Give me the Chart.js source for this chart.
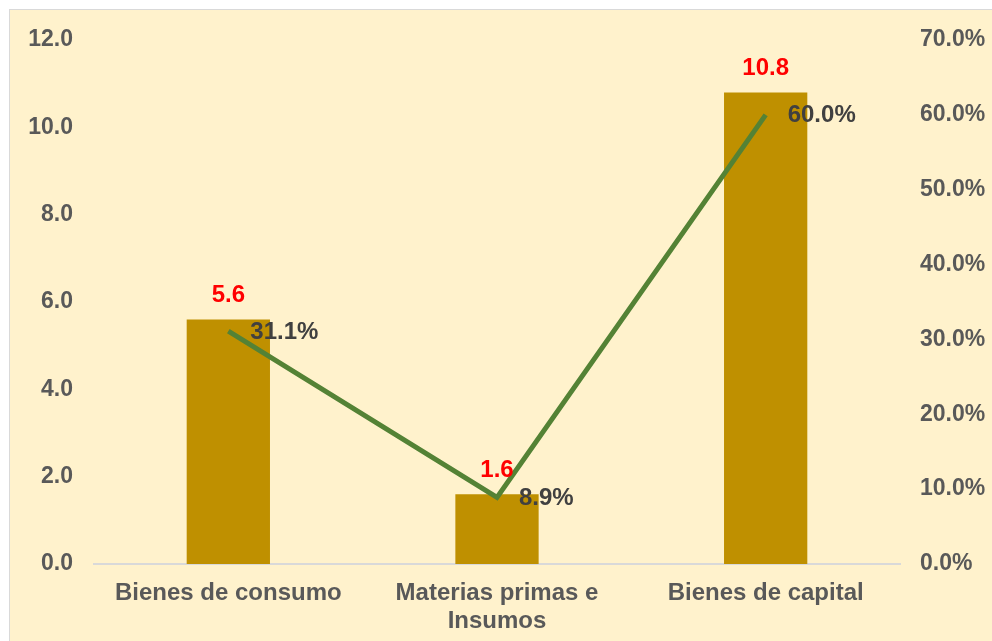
<!DOCTYPE html>
<html>
<head>
<meta charset="utf-8">
<script src="https://cdn.jsdelivr.net/npm/chart.js@4"></script>
<style>
  body { margin: 0; background: #ffffff; overflow: hidden; }
  #box {
    position: absolute; left: 9px; top: 9px;
    width: 990px; height: 640px;
    border: 1px solid #d9d9d9;
    background: #FFF2CC;
  }
</style>
</head>
<body>
<div id="box"><canvas id="chart" width="990" height="640"></canvas></div>
<script>
var categories = [["Bienes de consumo"], ["Materias primas e", "Insumos"], ["Bienes de capital"]];
var values = [5.6, 1.6, 10.8];
var shares = [31.1, 8.9, 60.0];

var fontName = '"Liberation Sans", Arial, sans-serif';

const valueLabels = {
  id: 'valueLabels',
  afterDatasetsDraw(chart) {
    var ctx = chart.ctx;
    ctx.save();
    ctx.font = 'bold 24px ' + fontName;
    ctx.textBaseline = 'middle';
    chart.getDatasetMeta(1).data.forEach((bar, i) => {
      ctx.fillStyle = '#FF0000';
      ctx.textAlign = 'center';
      ctx.fillText(values[i].toFixed(1), bar.x, bar.y - 24);
    });
    chart.getDatasetMeta(0).data.forEach((pt, i) => {
      ctx.fillStyle = '#404040';
      ctx.textAlign = 'left';
      ctx.fillText(shares[i].toFixed(1) + '%', pt.x + 22, pt.y + 1);
    });
    ctx.restore();
  }
};

new Chart(document.getElementById('chart').getContext('2d'), {
  type: 'bar',
  data: {
    labels: categories,
    datasets: [{
      type: 'line',
      data: shares,
      yAxisID: 'y1',
      borderColor: '#548235',
      borderWidth: 5,
      pointRadius: 0,
      tension: 0,
      order: 0
    }, {
      type: 'bar',
      data: values,
      yAxisID: 'y',
      backgroundColor: '#BF9000',
      categoryPercentage: 1,
      barPercentage: 0.31,
      order: 1
    }]
  },
  options: {
    responsive: false,
    animation: false,
    layout: { padding: { top: 30 } },
    plugins: { legend: { display: false }, tooltip: { enabled: false } },
    scales: {
      x: {
        grid: { display: false },
        border: { display: true, color: '#d9d9d9', width: 2 },
        ticks: {
          color: '#595959', padding: 7,
          font: { family: fontName, size: 24, weight: 'bold', lineHeight: 1.17 }
        },
        afterFit: s => { s.height = 86; }
      },
      y: {
        position: 'left',
        min: 0, max: 12,
        grid: { display: false },
        border: { display: false },
        ticks: {
          stepSize: 2, color: '#595959', padding: 13,
          font: { family: fontName, size: 23, weight: 'bold' },
          callback: v => v.toFixed(1)
        },
        afterFit: s => { s.width = 84; }
      },
      y1: {
        position: 'right',
        min: 0, max: 70,
        grid: { display: false },
        border: { display: false },
        ticks: {
          stepSize: 10, color: '#595959', padding: 12,
          font: { family: fontName, size: 23, weight: 'bold' },
          callback: v => v.toFixed(1) + '%'
        },
        afterFit: s => { s.width = 100; }
      }
    }
  },
  plugins: [valueLabels]
});
</script>
</body>
</html>
